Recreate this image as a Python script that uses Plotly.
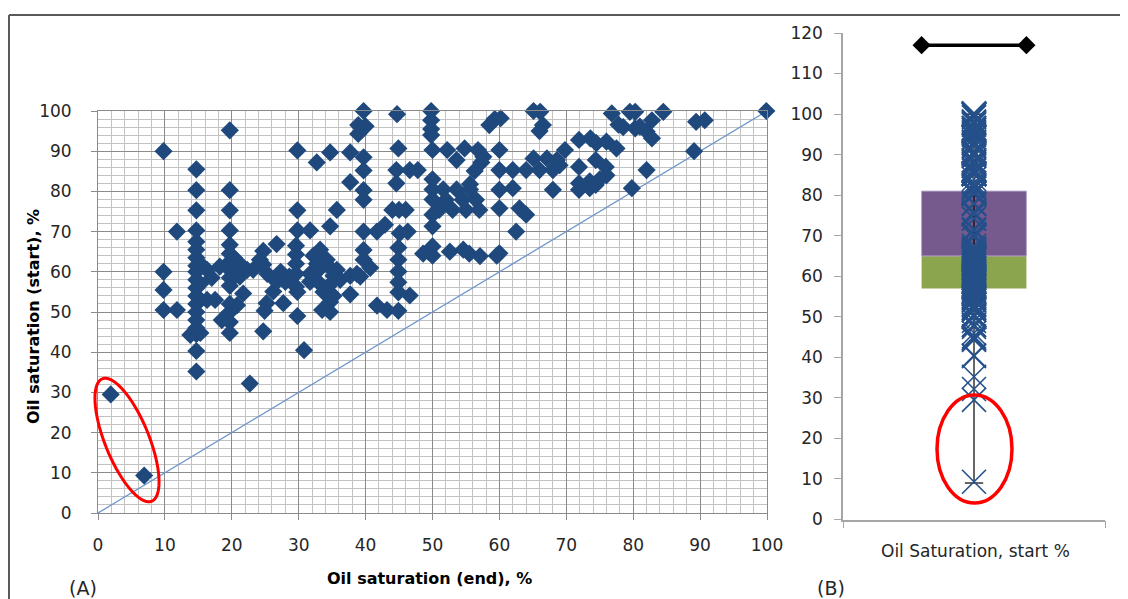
import numpy as np
import plotly.graph_objects as go

# ---------------- data ----------------
# Panel A: oil saturation at end (x) vs at start (y), %
sat_end = [
    1.9, 6.9,
    9.8, 9.8, 9.8, 9.8, 11.8, 11.8,
    14.7, 14.7, 14.7, 14.7, 14.7, 14.7, 14.7, 14.7, 14.7, 14.7, 14.7, 14.7, 14.7, 14.7, 14.7, 14.7, 14.7,
    13.8, 15.3, 14.7, 14.7, 15.3, 15.3, 15.3,
    16.3, 17.0, 16.3, 17.5, 18.2, 18.5,
    19.7, 19.7, 19.7, 19.7, 19.7, 19.7, 19.7, 19.7, 19.7, 19.7, 19.7, 19.7, 19.7, 19.7, 20.3, 20.5,
    21.2, 21.7, 20.8, 20.9, 22.3, 23.2, 22.7,
    24.7, 24.2, 24.7, 25.3, 24.9, 25.2, 24.7, 26.2,
    26.7, 26.7, 27.7, 27.3, 28.0, 28.6,
    29.8, 29.8, 29.8, 29.6, 29.6, 29.6, 29.6, 29.6, 29.8, 29.8, 30.8,
    31.7, 31.7, 31.7, 32.7, 32.2, 32.7, 32.7, 33.2, 33.2, 33.7, 33.5,
    34.7, 34.7, 35.7, 34.2, 34.7, 35.2, 34.5, 35.2, 34.7, 34.7, 35.7, 36.2,
    37.7, 37.7, 37.7, 37.7, 38.9, 38.9, 38.7,
    39.7, 40.0, 39.7, 39.7, 39.7, 39.7, 39.7, 39.7, 39.7, 40.7, 39.2, 41.7, 42.9, 41.7, 43.2,
    44.7, 44.9, 44.6, 44.6, 44.0, 45.0, 46.0, 45.1, 46.3, 44.9, 44.9, 44.9, 44.9, 44.9, 46.6, 44.9,
    46.6, 47.8,
    49.8, 49.8, 49.8, 49.8, 50.0, 50.0, 50.0, 50.0, 50.0, 50.0, 50.0, 49.4, 50.0, 48.6,
    52.2, 53.6, 54.8, 56.8, 57.3, 56.3, 55.6, 51.6, 53.6, 55.6, 52.0, 54.5, 56.5,
    51.0, 53.0, 55.0, 57.0, 52.6, 54.6, 57.1, 55.5,
    59.3, 58.5, 60.2, 60.0, 57.6, 60.0, 62.0, 60.0, 62.0, 60.0, 63.0, 64.0, 62.5, 60.0, 59.6,
    64.0, 66.0, 68.0, 69.0, 65.1, 67.1, 68.6, 65.1, 66.1, 66.5, 66.0, 68.0, 69.8,
    71.9, 73.6, 74.5, 76.0, 77.5, 71.9, 74.4, 75.9, 71.9, 73.5, 75.0, 76.0, 74.4, 73.5, 71.9,
    76.0, 76.8, 77.8, 78.5, 79.5,
    79.8, 80.3, 80.3, 81.0, 82.0, 82.8, 82.8, 84.5, 82.0,
    89.6, 90.7, 89.4, 89.1, 99.9,
]
sat_start = [
    29.5, 9.3,
    90.0, 60.0, 55.5, 50.5, 70.0, 50.5,
    85.5, 80.3, 75.3, 70.3, 67.5, 65.5, 63.5, 61.5, 60.0, 58.0, 56.0, 54.0, 52.0, 50.0, 48.0, 46.0, 44.5,
    44.3, 44.8, 40.3, 35.2, 62.0, 57.0, 53.0,
    60.5, 58.5, 53.0, 53.0, 61.3, 48.0,
    95.2, 80.3, 75.3, 70.3, 66.7, 64.5, 62.5, 60.5, 58.5, 56.5, 52.0, 50.0, 47.5, 44.8, 63.5, 59.0,
    58.8, 54.6, 51.7, 62.5, 60.5, 60.5, 32.2,
    65.2, 63.0, 61.8, 59.5, 50.3, 52.2, 45.2, 55.1,
    66.9, 57.5, 52.2, 60.0, 57.5, 58.8,
    90.2, 75.3, 70.3, 66.5, 64.3, 62.0, 59.5, 56.3, 55.0, 49.0, 40.5,
    70.3, 57.5, 59.5, 87.2, 64.0, 62.0, 60.0, 65.5, 57.0, 55.0, 50.5,
    89.7, 71.3, 75.4, 63.0, 61.0, 59.0, 56.5, 54.0, 52.5, 50.0, 60.5, 58.0,
    89.7, 82.3, 59.0, 54.4, 96.5, 94.3, 59.5,
    100.0, 96.2, 88.5, 85.2, 80.3, 77.9, 70.0, 65.4, 63.0, 61.0, 58.8, 70.0, 71.7, 51.6, 50.5,
    99.2, 90.7, 85.3, 82.0, 75.4, 75.4, 75.4, 69.6, 70.0, 66.0, 63.0, 60.1, 57.4, 54.9, 54.1, 50.3,
    85.3, 85.3,
    100.0, 97.7, 95.5, 94.0, 90.3, 83.0, 80.5, 78.0, 74.2, 71.3, 66.3, 65.0, 64.0, 64.5,
    90.3, 87.8, 90.7, 90.3, 87.2, 85.1, 81.8, 80.5, 80.5, 80.5, 77.9, 77.9, 77.9,
    75.4, 75.4, 75.4, 75.4, 65.0, 65.5, 63.9, 64.5,
    98.0, 96.5, 98.2, 90.3, 88.6, 85.3, 85.3, 80.4, 80.8, 75.8, 75.8, 74.2, 70.0, 64.6, 64.0,
    85.3, 85.3, 85.3, 86.5, 88.2, 88.2, 87.8, 100.0, 99.8, 96.5, 95.0, 80.4, 90.3,
    92.8, 93.2, 92.0, 92.4, 90.7, 86.1, 87.8, 86.1, 82.0, 82.5, 83.0, 84.0, 81.6, 80.8, 80.4,
    100.2, 99.4, 96.6, 96.0, 99.8,
    80.8, 99.8, 95.7, 96.1, 94.9, 93.2, 97.7, 99.8, 85.3,
    100.2, 97.7, 97.3, 90.0, 100.0,
]

# Panel B: box summary of start saturation, %
box_q1 = 57.0
box_median = 65.0
box_q3 = 81.0
whisker_min = 9.0
whisker_max = 100.0
top_bar_value = 117.0
category_label = "Oil Saturation, start %"

# ---------------- figure geometry helpers ----------------
# the page body adds an 8 px margin, so the figure is 8 px smaller and
# screen positions are shifted by 8 px
OFF = 8
W, H = 1128 - OFF, 599 - OFF
def fx(p):
    return (p - OFF) / W
def fy(p):
    return 1 - (p - OFF) / H

FONT = "DejaVu Sans"
TXT = "#262626"

fig = go.Figure()

# 1:1 reference line
fig.add_trace(go.Scatter(
    x=[0, 100], y=[0, 100], mode="lines",
    line=dict(color="#6f97cc", width=1.3),
    xaxis="x", yaxis="y", hoverinfo="skip", showlegend=False))

# scatter of start vs end
fig.add_trace(go.Scatter(
    x=sat_end, y=sat_start, mode="markers",
    marker=dict(symbol="diamond", size=14, color="#1f497d"),
    cliponaxis=False, xaxis="x", yaxis="y", showlegend=False))

# box parts (green: Q1-median, purple: median-Q3)
fig.add_trace(go.Bar(
    x=[0.5], y=[box_median - box_q1], base=[box_q1], width=[0.4],
    marker=dict(color="#8ba54e", line=dict(width=0)),
    xaxis="x2", yaxis="y2", showlegend=False))
fig.add_trace(go.Bar(
    x=[0.5], y=[box_q3 - box_median], base=[box_median], width=[0.4],
    marker=dict(color="#765a8e", line=dict(color="#b3a3c8", width=1)),
    xaxis="x2", yaxis="y2", showlegend=False))

# whisker
fig.add_trace(go.Scatter(
    x=[0.5, 0.5], y=[whisker_min, whisker_max], mode="lines",
    line=dict(color="black", width=1.2),
    xaxis="x2", yaxis="y2", hoverinfo="skip", showlegend=False))
fig.add_trace(go.Scatter(
    x=[0.465, 0.535, None, 0.465, 0.535], y=[whisker_min, whisker_min, None, whisker_max, whisker_max],
    mode="lines", line=dict(color="black", width=1.2),
    xaxis="x2", yaxis="y2", hoverinfo="skip", showlegend=False))

# individual values as x markers
fig.add_trace(go.Scatter(
    x=[0.5] * len(sat_start), y=sat_start, mode="markers",
    marker=dict(symbol="x-thin", size=24, line=dict(color="#25508a", width=1.6)),
    cliponaxis=False, xaxis="x2", yaxis="y2", showlegend=False))

# top black bar with diamond ends
fig.add_trace(go.Scatter(
    x=[0.3, 0.7], y=[top_bar_value, top_bar_value], mode="lines+markers",
    line=dict(color="black", width=3.5),
    marker=dict(symbol="diamond", size=14, color="black"),
    cliponaxis=False, xaxis="x2", yaxis="y2", showlegend=False))

tickfont = dict(family=FONT, size=17, color=TXT)

fig.update_layout(
    width=W, height=H,
    margin=dict(l=0, r=0, t=0, b=0, autoexpand=False),
    paper_bgcolor="white", plot_bgcolor="white",
    barmode="overlay",
    xaxis=dict(
        domain=[fx(98), fx(767)], range=[0, 100], dtick=10, tick0=0,
        showgrid=True, gridcolor="#8a8a8a", gridwidth=1,
        minor=dict(dtick=2, showgrid=True, gridcolor="#c2c2c2", gridwidth=1),
        showline=True, linecolor="#8a8a8a", linewidth=1, mirror=True,
        ticks="outside", ticklen=6, tickcolor="#8a8a8a",
        zeroline=False, tickfont=tickfont, ticklabelstandoff=11,
        automargin=False, anchor="y"),
    yaxis=dict(
        domain=[fy(513), fy(111)], range=[0, 100], dtick=10, tick0=0,
        showgrid=True, gridcolor="#8a8a8a", gridwidth=1,
        minor=dict(dtick=2, showgrid=True, gridcolor="#c2c2c2", gridwidth=1),
        showline=True, linecolor="#8a8a8a", linewidth=1, mirror=True,
        ticks="outside", ticklen=6, tickcolor="#8a8a8a",
        zeroline=False, tickfont=tickfont, ticklabelstandoff=16,
        automargin=False, anchor="x"),
    xaxis2=dict(
        domain=[fx(843), fx(1105)], range=[0, 1],
        showgrid=False, zeroline=False,
        showline=True, linecolor="#a6a6a6", linewidth=1.5,
        tickvals=[0, 1], ticks="outside", ticklen=7, tickcolor="#a6a6a6",
        showticklabels=False, automargin=False, anchor="y2"),
    yaxis2=dict(
        domain=[fy(519.5), fy(33)], range=[0, 120], dtick=10, tick0=0,
        showgrid=False, zeroline=False,
        showline=True, linecolor="#a6a6a6", linewidth=1.5,
        ticks="outside", ticklen=7, tickcolor="#a6a6a6",
        tickfont=tickfont, ticklabelstandoff=8, automargin=False, anchor="x2"),
)

# outer frame lines
fig.add_shape(type="line", xref="paper", yref="paper",
              x0=fx(9), x1=1, y0=fy(15), y1=fy(15), line=dict(color="#5a5a5a", width=2))
fig.add_shape(type="line", xref="paper", yref="paper",
              x0=fx(9), x1=fx(9), y0=fy(15), y1=0, line=dict(color="#5a5a5a", width=2))

# red ellipse (rotated) around outliers in panel A
cx, cy, a, b, phi = 127.0, 440.0, 66.0, 22.0, np.deg2rad(22.0)
t = np.linspace(0, 2 * np.pi, 73)
pxs = cx + a * np.cos(t) * np.sin(phi) + b * np.sin(t) * np.cos(phi)
pys = cy + a * np.cos(t) * np.cos(phi) - b * np.sin(t) * np.sin(phi)
path = "M " + " L ".join(f"{fx(px):.5f},{fy(py):.5f}" for px, py in zip(pxs, pys)) + " Z"
fig.add_shape(type="path", path=path, xref="paper", yref="paper",
              line=dict(color="#ff0000", width=3))

# red ellipse in panel B
fig.add_shape(type="circle", xref="paper", yref="paper",
              x0=fx(937), x1=fx(1012), y0=fy(503), y1=fy(395),
              line=dict(color="#ff0000", width=3.5))

# texts
def note(text, x, y, size, color=TXT, angle=0):
    fig.add_annotation(text=text, textangle=angle, x=fx(x), y=fy(y),
                       xref="paper", yref="paper", showarrow=False,
                       xanchor="center", yanchor="middle",
                       font=dict(family=FONT, size=size, color=color))

note("<b>Oil saturation (start), %</b>", 33, 317, 16, "black", -90)
note("<b>Oil saturation (end), %</b>", 429, 578, 16, "black")
note(category_label, 975, 551, 17)
note("(A)", 83, 588, 19)
note("(B)", 831, 588, 19)

fig.write_html("out.html")
